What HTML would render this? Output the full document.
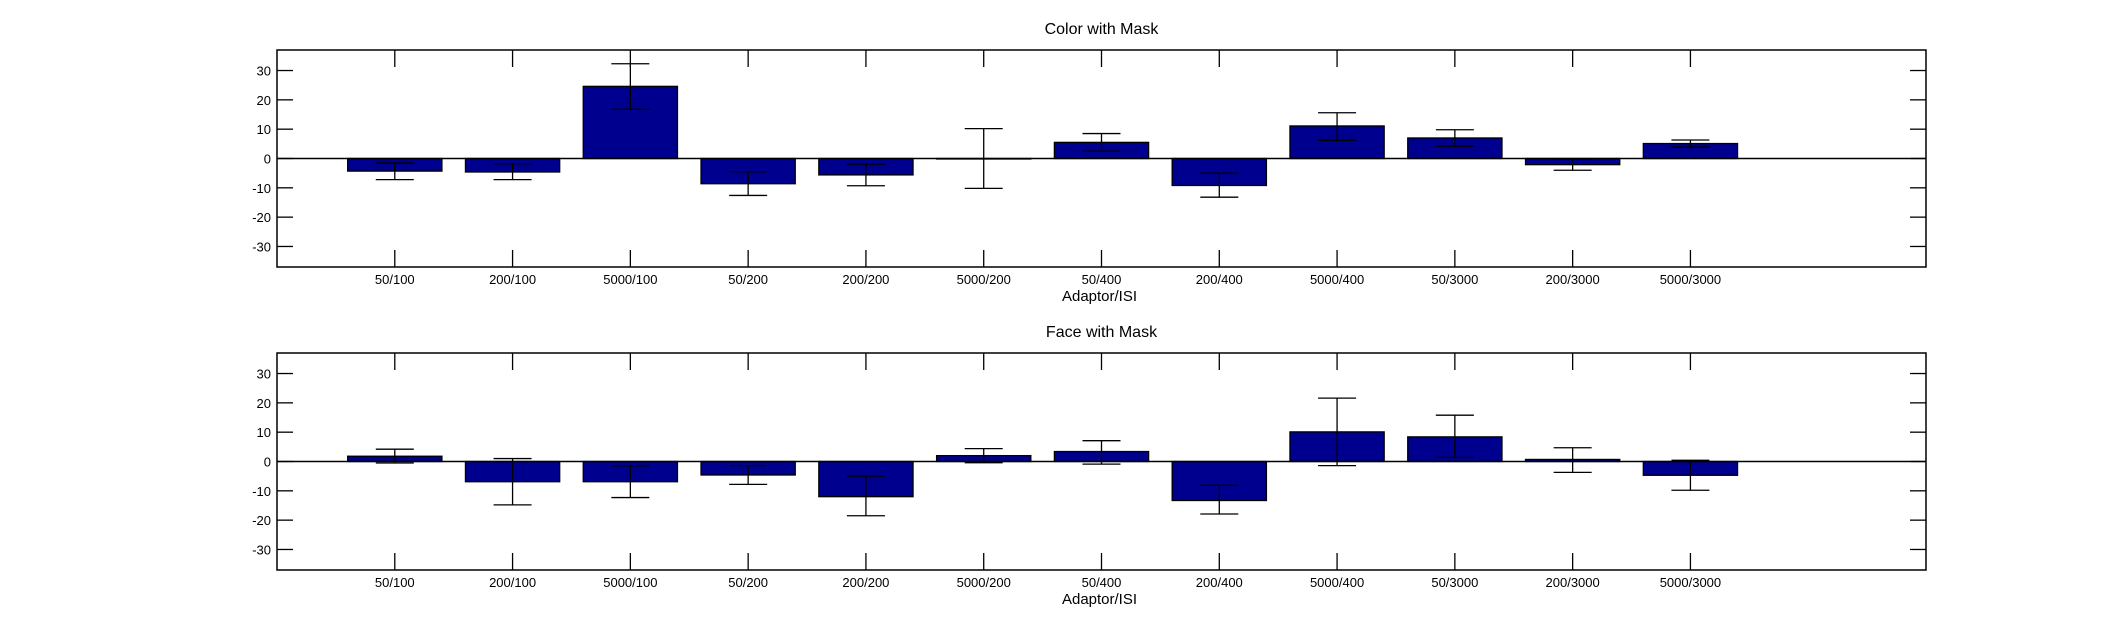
<!DOCTYPE html>
<html><head><meta charset="utf-8"><style>
html,body{margin:0;padding:0;background:#fff;}
svg{display:block;font-family:"Liberation Sans",Arial,sans-serif;}
</style></head><body>
<svg id="chart" width="2127" height="639" viewBox="0 0 2127 639" xmlns="http://www.w3.org/2000/svg"></svg>
<script>
const categories = ["50/100","200/100","5000/100","50/200","200/200","5000/200","50/400","200/400","5000/400","50/3000","200/3000","5000/3000"];
const colorValues = [-4.3,-4.6,24.6,-8.6,-5.6,0,5.5,-9.2,11.1,7.0,-2.1,5.1];
const colorErrLow = [-7.2,-7.2,16.8,-12.6,-9.3,-10.2,2.5,-13.2,6.2,4.2,-4.0,3.9];
const colorErrHigh = [-1.5,-1.8,32.3,-4.5,-1.9,10.2,8.5,-5.0,15.6,9.8,-0.2,6.3];
const faceValues = [1.8,-6.9,-6.9,-4.6,-12.0,2.0,3.4,-13.3,10.1,8.4,0.7,-4.7];
const faceErrLow = [-0.5,-14.8,-12.3,-7.8,-18.5,-0.4,-0.9,-17.9,-1.4,1.4,-3.7,-9.8];
const faceErrHigh = [4.2,1.0,-1.5,-1.4,-5.0,4.4,7.1,-8.1,21.6,15.8,4.7,0.4];
const yTicks = [-30,-20,-10,0,10,20,30];
const panelTitles = ["Color with Mask","Face with Mask"];
const xLabelText = "Adaptor/ISI";

const NS="http://www.w3.org/2000/svg";
const svg=document.getElementById('chart');
function mk(tag,attrs,parent){const e=document.createElementNS(NS,tag);for(const k in attrs)e.setAttribute(k,attrs[k]);(parent||svg).appendChild(e);return e;}

function panel(idx,top,bottom,vals,lo,hi,key){
  const L=277,R=1926,xmin=0,xmax=14,ymin=-37,ymax=37;
  const g=mk('g',{});
  
  
  const xs=v=>L+(v-xmin)/(xmax-xmin)*(R-L);
  const ys=v=>bottom-(v-ymin)/(ymax-ymin)*(bottom-top);
  vals.forEach((v,i)=>{
    const x0=xs(i+1-0.4),x1=xs(i+1+0.4);
    const y0=ys(Math.max(v,0)),y1=ys(Math.min(v,0));
    const r=mk('rect',{x:x0,y:y0,width:x1-x0,height:Math.max(y1-y0,0.5),fill:'#00008f',stroke:'#000','stroke-width':1.3},g);
    
    
  });
  const zl=mk('line',{x1:L,x2:R,y1:ys(0),y2:ys(0),stroke:'#000','stroke-width':1.5},g);
  
  
  vals.forEach((v,i)=>{
    const x=xs(i+1),w=19;
    const eg=mk('g',{stroke:'#000','stroke-width':1.3},g);
    
    
    mk('line',{x1:x,x2:x,y1:ys(lo[i]),y2:ys(hi[i])},eg);
    mk('line',{x1:x-w,x2:x+w,y1:ys(lo[i]),y2:ys(lo[i])},eg);
    mk('line',{x1:x-w,x2:x+w,y1:ys(hi[i]),y2:ys(hi[i])},eg);
  });
  const bx=mk('rect',{x:L,y:top,width:R-L,height:bottom-top,fill:'none',stroke:'#000','stroke-width':1.5},g);
  
  
  yTicks.forEach(t=>{
    const y=ys(t);
    mk('line',{x1:L,x2:L+16,y1:y,y2:y,stroke:'#000','stroke-width':1.3},g);
    mk('line',{x1:R-16,x2:R,y1:y,y2:y,stroke:'#000','stroke-width':1.3},g);
    const tx=mk('text',{x:L-6,y:y+5,'text-anchor':'end','font-size':13},g);
    tx.textContent=t;
    
    
  });
  categories.forEach((c,i)=>{
    const x=xs(i+1);
    mk('line',{x1:x,x2:x,y1:top,y2:top+17,stroke:'#000','stroke-width':1.3},g);
    mk('line',{x1:x,x2:x,y1:bottom-17,y2:bottom,stroke:'#000','stroke-width':1.3},g);
    const tx=mk('text',{x:x,y:bottom+17,'text-anchor':'middle','font-size':13},g);
    tx.textContent=c;
    
    
  });
  const tt=mk('text',{x:(L+R)/2,y:top-16,'text-anchor':'middle','font-size':16},g);
  tt.textContent=panelTitles[idx];
  
  
  const xl=mk('text',{x:xs(7)-2,y:bottom+34,'text-anchor':'middle','font-size':15},g);
  xl.textContent=xLabelText;
  
  
}
panel(0,50,267,colorValues,colorErrLow,colorErrHigh,'color');
panel(1,353,570,faceValues,faceErrLow,faceErrHigh,'face');
</script>
</body></html>
